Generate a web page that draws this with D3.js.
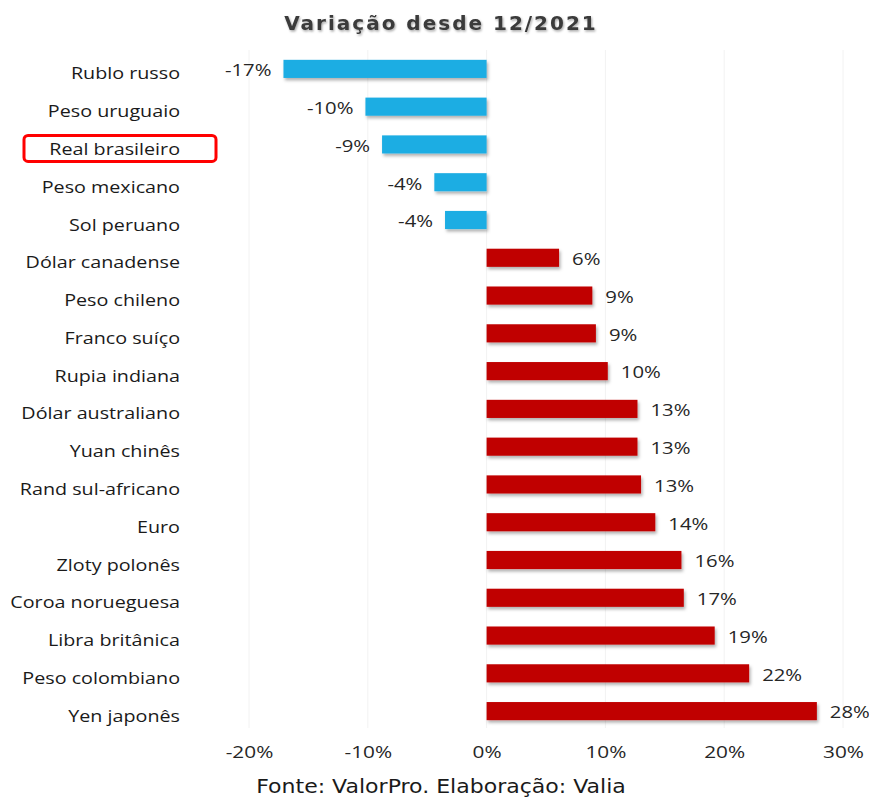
<!DOCTYPE html>
<html><head><meta charset="utf-8">
<script src="https://cdn.jsdelivr.net/npm/d3@7"></script>
<style>
body{margin:0;background:#fff;}
svg{display:block;}
</style></head>
<body>
<svg id="chart" width="869" height="799"></svg>
<script>
const categories = ["Rublo russo","Peso uruguaio","Real brasileiro","Peso mexicano","Sol peruano","Dólar canadense","Peso chileno","Franco suíço","Rupia indiana","Dólar australiano","Yuan chinês","Rand sul-africano","Euro","Zloty polonês","Coroa norueguesa","Libra britânica","Peso colombiano","Yen japonês"];
const values = [-17.1,-10.2,-8.8,-4.4,-3.5,6.1,8.9,9.2,10.2,12.7,12.7,13.0,14.2,16.4,16.6,19.2,22.1,27.8];
const valueLabels = ["-17%","-10%","-9%","-4%","-4%","6%","9%","9%","10%","13%","13%","13%","14%","16%","17%","19%","22%","28%"];
const ticks = [-20,-10,0,10,20,30];
const tickLabels = ["-20%","-10%","0%","10%","20%","30%"];
const title = "Variação desde 12/2021";
const source = "Fonte: ValorPro. Elaboração: Valia";
const highlighted = "Real brasileiro";

const svg = d3.select("#chart");
const x = d3.scaleLinear().domain([-20,30]).range([249,843]);
const y = d3.scaleBand().domain(categories).range([50,730]).paddingInner(0.52).paddingOuter(0.26);

const defs = svg.append("defs");
const f = defs.append("filter").attr("id","sh").attr("x","-10%").attr("y","-30%").attr("width","120%").attr("height","180%");
f.append("feDropShadow").attr("dx",1.5).attr("dy",2.5).attr("stdDeviation",1.5).attr("flood-color","#000").attr("flood-opacity",0.3);
const ft = defs.append("filter").attr("id","tsh").attr("x","-10%").attr("y","-30%").attr("width","120%").attr("height","180%");
ft.append("feDropShadow").attr("dx",1).attr("dy",1.5).attr("stdDeviation",1).attr("flood-color","#000").attr("flood-opacity",0.35);

// grid
svg.append("g").selectAll("line").data(ticks).join("line")
  .attr("x1",d=>x(d)).attr("x2",d=>x(d)).attr("y1",50).attr("y2",728)
  .attr("stroke","#f2f2f2").attr("stroke-width",1);

// title
svg.append("text").attr("x",441).attr("y",30).attr("text-anchor","middle")
  .attr("font-family","DejaVu Sans, Verdana, sans-serif").attr("font-size",20).attr("font-weight","bold")
  .attr("letter-spacing",2).attr("fill","#3a3a3a").attr("filter","url(#tsh)").text(title);

// bars
svg.append("g").selectAll("rect").data(categories).join("rect")
  .attr("x",(d,i)=>x(Math.min(0,values[i])))
  .attr("width",(d,i)=>Math.abs(x(values[i])-x(0)))
  .attr("y",d=>y(d)).attr("height",y.bandwidth())
  .attr("fill",(d,i)=>values[i]<0?"#1fade3":"#c00000")
  .attr("filter","url(#sh)");

// value labels
svg.append("g").selectAll("text").data(categories).join("text")
  .attr("transform",(d,i)=>`translate(${values[i]<0?x(values[i])-12:x(values[i])+13},${y(d)+y.bandwidth()/2+3}) scale(1.27,1)`)
  .attr("dominant-baseline","middle")
  .attr("text-anchor",(d,i)=>values[i]<0?"end":"start")
  .attr("font-family","Open Sans, sans-serif").attr("font-size",16).attr("fill","#262626")
  .text((d,i)=>valueLabels[i]);

// category labels
svg.append("g").selectAll("text").data(categories).join("text")
  .attr("transform",d=>`translate(180,${y(d)+y.bandwidth()/2+6}) scale(1.16,1)`)
  .attr("dominant-baseline","middle").attr("text-anchor","end")
  .attr("font-family","Open Sans, sans-serif").attr("font-size",17).attr("fill","#1a1a1a")
  .text(d=>d);

// highlight box
const hb = y(highlighted)+y.bandwidth()/2;
svg.append("rect").attr("x",24).attr("y",hb-9).attr("width",192).attr("height",26).attr("rx",4)
  .attr("fill","none").attr("stroke","#ff0000").attr("stroke-width",3);

// x axis
const xAxis = d3.axisBottom(x).tickValues(ticks).tickSize(0).tickFormat((d,i)=>tickLabels[i]);
const ax = svg.append("g").attr("transform","translate(0,744)").call(xAxis);
ax.select(".domain").remove();
ax.selectAll("text").attr("font-family","Open Sans, sans-serif").attr("font-size",16).attr("fill","#262626")
  .attr("transform","scale(1.3,1)");

// source
svg.append("text").attr("transform","translate(441,793) scale(1.16,1)").attr("text-anchor","middle")
  .attr("font-family","DejaVu Sans, Verdana, sans-serif").attr("font-size",19).attr("fill","#1a1a1a")
  .text(source);
</script>
</body></html>
